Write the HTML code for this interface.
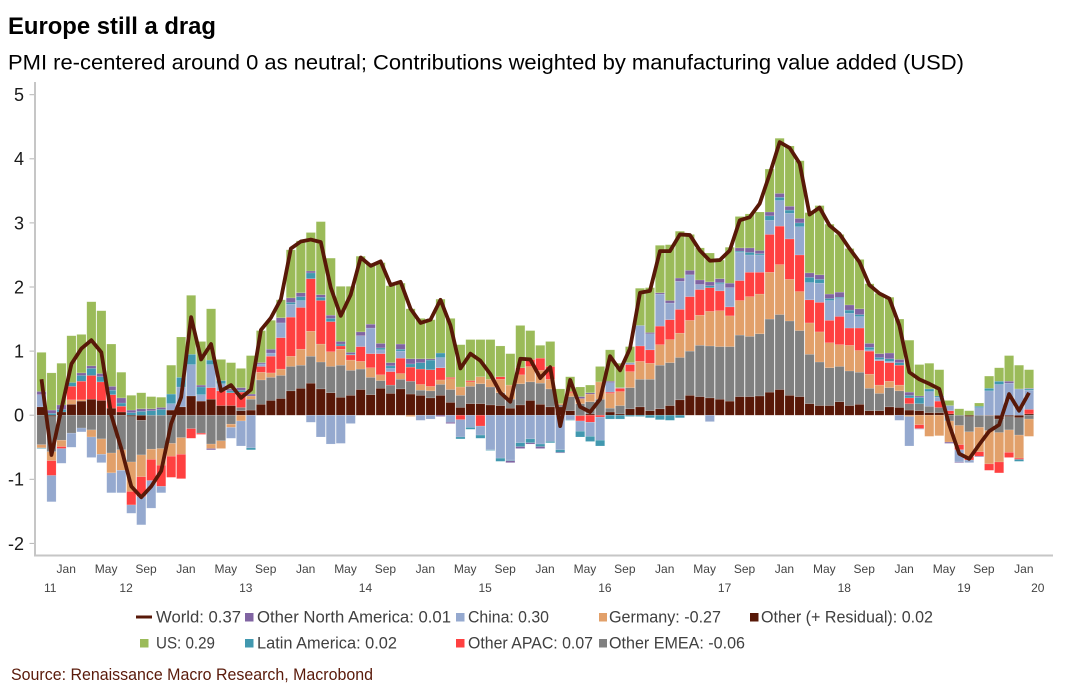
<!DOCTYPE html>
<html lang="en">
<head>
<meta charset="utf-8">
<title>Europe still a drag</title>
<style>
html,body{margin:0;padding:0;background:#fff;}
#chart{display:block;width:1069px;height:697px;font-family:"Liberation Sans",sans-serif;}
</style>
</head>
<body>
<svg id="chart" xmlns="http://www.w3.org/2000/svg" width="1069" height="697" viewBox="0 0 1069 697">
  <rect x="0" y="0" width="1069" height="697" fill="#fff"/>
  <text x="8" y="34" font-size="24.5" font-weight="bold" fill="#000" textLength="208" lengthAdjust="spacingAndGlyphs">Europe still a drag</text>
  <text x="8" y="69.5" font-size="21" fill="#000" textLength="956" lengthAdjust="spacingAndGlyphs">PMI re-centered around 0 as neutral; Contributions weighted by manufacturing value added (USD)</text>
  <g id="bars"></g>
  <g id="axes">
    <line x1="35" y1="82" x2="35" y2="556" stroke="#c6c6c6" stroke-width="2"/>
    <line x1="34" y1="555.5" x2="1053" y2="555.5" stroke="#c6c6c6" stroke-width="2"/>
  </g>
  <path id="world-line" fill="none" stroke="#581808" stroke-width="3.8" stroke-linejoin="round" stroke-linecap="butt"/>
  <g id="legend" font-size="16.5" fill="#404040">
    <g><rect x="136" y="615.5" width="16" height="3" fill="#581808"/><text x="156" y="622.5" textLength="85" lengthAdjust="spacingAndGlyphs">World: 0.37</text></g>
    <g><rect x="245" y="613" width="8.5" height="8.5" fill="#8064a2"/><text x="257" y="622.5" textLength="194" lengthAdjust="spacingAndGlyphs">Other North America: 0.01</text></g>
    <g><rect x="456" y="613" width="8.5" height="8.5" fill="#95a9cf"/><text x="468" y="622.5" textLength="81" lengthAdjust="spacingAndGlyphs">China: 0.30</text></g>
    <g><rect x="599" y="613" width="8" height="8.5" fill="#e2a06a"/><text x="609" y="622.5" textLength="112" lengthAdjust="spacingAndGlyphs">Germany: -0.27</text></g>
    <g><rect x="750" y="613" width="8.5" height="8.5" fill="#581808"/><text x="761" y="622.5" textLength="172" lengthAdjust="spacingAndGlyphs">Other (+ Residual): 0.02</text></g>
    <g><rect x="140" y="639" width="8.5" height="8.5" fill="#9bbb59"/><text x="156" y="648.5" textLength="59" lengthAdjust="spacingAndGlyphs">US: 0.29</text></g>
    <g><rect x="245" y="639" width="8.5" height="8.5" fill="#4198af"/><text x="257" y="648.5" textLength="140" lengthAdjust="spacingAndGlyphs">Latin America: 0.02</text></g>
    <g><rect x="456" y="639" width="8.5" height="8.5" fill="#ff4040"/><text x="468" y="648.5" textLength="125" lengthAdjust="spacingAndGlyphs">Other APAC: 0.07</text></g>
    <g><rect x="599" y="639" width="8" height="8.5" fill="#808080"/><text x="609" y="648.5" textLength="136" lengthAdjust="spacingAndGlyphs">Other EMEA: -0.06</text></g>
  </g>
  <text x="11" y="680" font-size="16.5" fill="#5a1a0a" textLength="362" lengthAdjust="spacingAndGlyphs">Source: Renaissance Macro Research, Macrobond</text>
</svg>
<script>
const yTickValues = [-2,-1,0,1,2,3,4,5];
const monthTickIndex = [3,7,11,15,19,23,27,31,35,39,43,47,51,55,59,63,67,71,75,79,83,87,91,95,99,103,107,111,115,119];
const yearTickLabels = ['11','12','13','14','15','16','17','18','19','20'];
const yearTickIndex = [1.4,9,21,33,45,57,69,81,93,100.4];
const monthNames = ['Jan','May','Sep'];

const other = [.13,-.02,.05,.17,.22,.25,.23,.11,.05,-.02,
-.08,0,0,.08,.13,.30,.22,.25,.15,.15,
.07,.08,.17,.23,.26,.38,.42,.50,.41,.35,
.28,.31,.40,.32,.42,.34,.41,.33,.31,.27,
.31,.20,.12,.18,.18,.16,.15,.11,.16,.23,
.17,.13,.13,.07,-.01,.02,0,.05,.02,.10,
.13,.07,.10,.15,.24,.31,.29,.27,.25,.22,
.29,.29,.30,.36,.40,.31,.29,.18,.15,.15,
.21,.15,.17,.07,.07,.13,.12,.08,.07,.04,
.04,.02,0,-.02,0,-.01,-.06,-.02,-.04,.02];
const otherEmea = [-.46,-.55,-.39,-.28,-.20,-.23,-.37,-.59,-.54,-.71,
-.54,-.53,-.52,-.44,-.35,-.21,-.28,-.45,-.40,-.14,
.05,.17,.38,.36,.36,.38,.36,.42,.42,.41,
.50,.39,.32,.27,.12,.13,.15,.20,.08,.11,
.17,.20,.19,.27,.31,.28,.20,.14,.33,.29,
.33,.28,.03,.22,.18,.19,.25,.06,.13,.33,
.43,.49,.68,.67,.66,.69,.80,.81,.82,.85,
.96,.94,.97,1.14,1.17,1.16,1.03,.77,.68,.59,
.55,.54,.50,.35,.27,.30,.26,.10,.11,.10,
.08,-.09,-.16,-.24,-.19,-.23,-.21,-.21,-.27,-.06];
const germany = [-.05,-.14,-.10,.07,.02,-.11,-.24,-.31,-.32,-.46,
-.34,-.16,-.26,-.20,-.26,0,0,-.07,-.12,-.05,
-.09,.05,.12,.07,.10,.16,.25,.39,.28,.23,
.25,.16,.12,.15,.09,0,.09,-.02,.09,.07,
.07,.17,.13,.07,.11,.12,.21,.22,.14,.24,
.20,.15,.02,.06,.08,.12,.27,.23,.22,.25,
.28,.25,.32,.36,.38,.48,.47,.54,.56,.48,
.54,.62,.62,.73,.78,.65,.61,.49,.47,.39,
.34,.40,.34,.22,.13,.10,.09,-.02,-.15,-.33,
-.32,-.33,-.30,-.39,-.38,-.52,-.46,-.35,-.36,-.27];
const otherApac = [0,-.23,-.03,.21,.29,.37,.29,.21,.09,-.21,
-.31,-.33,-.33,-.33,-.38,-.15,-.02,.18,.23,.20,
.24,0,.09,.26,.49,.61,.65,.82,.68,.47,
.05,.08,.23,.22,.33,.21,.24,.22,.24,.26,
.19,.02,-.07,.02,-.17,0,.04,0,.11,.11,
.19,.20,0,.02,-.08,-.11,-.03,.02,.05,.11,
.24,.21,.29,.31,.37,.37,.40,.37,.31,.14,
.31,.38,.34,.59,.60,.63,.57,.36,.46,.35,
.44,.27,.35,.36,.38,.29,.31,.09,-.06,0,
.10,.05,-.08,-.05,-.07,-.10,-.17,-.08,-.02,.07];
const china = [.19,-.41,-.23,-.22,-.06,-.32,-.13,-.31,-.35,-.13,
-.44,-.43,-.10,.10,.31,.49,.10,.36,.11,-.17,
-.39,-.51,.04,.05,.23,.20,.11,-.11,-.34,-.45,
-.44,-.13,.17,.40,.06,.05,.11,0,-.08,-.06,
.16,-.11,-.27,-.19,-.14,-.54,-.67,-.70,-.43,-.37,
-.45,-.41,-.54,-.07,-.16,-.22,-.36,.15,.01,.03,
.32,.25,.50,.26,.44,.33,.08,-.10,.11,.30,
.44,.27,.27,.22,.40,.40,.44,.27,.30,.31,
.28,.23,.18,.02,.02,.02,-.08,-.46,-.01,.23,
.06,.08,-.19,-.04,.12,.38,.48,.50,.41,.30];
const latinAmerica = [-.01,.03,.04,.06,.09,.11,.08,.07,.05,.04,
.06,.07,.09,.15,.15,.16,.12,.07,.05,.03,
.03,-.03,0,0,0,.03,.06,.09,.05,.05,
.03,.01,0,0,.03,.04,.03,.05,.10,.15,
.07,0,-.03,-.03,-.05,-.01,-.05,-.01,-.06,-.06,
-.04,-.02,-.04,-.01,-.09,-.08,-.09,-.06,-.06,-.02,
-.02,-.04,-.07,-.08,-.04,.01,0,.03,.02,0,
.02,.04,.02,.07,.05,.05,.06,.08,.06,.03,
.02,.05,.03,.04,.03,.04,.04,.04,.10,.04,
.02,0,0,0,.02,.04,.05,0,-.03,.02];
const otherNorthAmerica = [.05,.05,.07,0,.04,.04,.05,.06,.08,.04,
.04,.03,.03,0,0,0,.03,-.02,0,.03,
.04,.03,.02,.06,.08,.07,.06,.03,.04,.05,
.04,.03,.06,.06,.07,.05,.08,.08,.06,.02,
-.02,-.02,0,0,0,0,0,-.03,-.03,-.02,
-.03,0,-.01,0,.03,.02,0,.02,0,0,
0,.02,.02,.04,.05,.07,.07,.06,.06,.07,
.05,.07,.05,.06,.06,.06,.07,.07,.07,.07,
.08,.08,.09,.06,.06,.09,.05,.05,.02,0,
0,-.02,-.01,0,-.01,0,0,.03,0,.01];
const us = [.61,.58,.65,.73,.60,1.0,.98,.66,.40,.23,
.25,.19,.16,.45,.63,.92,.68,.80,.33,.41,
.30,.60,.50,.45,.28,.75,.81,.60,1.14,.89,
.86,1.03,1.18,.95,1.26,1.20,.95,.78,.63,.61,
.84,.92,.66,.64,.58,.62,.48,.49,.66,.45,
.20,.39,.23,.23,.15,.12,.24,.49,.38,.25,
.58,.70,.74,.87,.73,.56,.50,.45,.29,.56,
.49,.53,.60,.67,.86,.94,.90,.94,1.08,1.09,
.90,.88,.77,.93,.94,.87,.63,.81,.49,.40,
.41,.08,.10,.07,.05,.19,.21,.40,.37,.29];
const world = [.56,-.62,.10,.80,1.04,1.17,.98,0,-.52,-1.11,
-1.28,-1.11,-.87,-.13,.28,1.53,.87,1.11,.38,.47,
.27,.40,1.33,1.52,1.81,2.60,2.71,2.74,2.70,1.99,
1.55,1.88,2.46,2.33,2.40,2.03,2.08,1.66,1.44,1.49,
1.80,1.40,.73,.96,.85,.64,.35,.21,.88,.87,
.58,.75,-.17,.55,.13,.05,.25,.92,.70,1.04,
1.91,1.94,2.56,2.56,2.82,2.81,2.57,2.41,2.42,2.57,
3.04,3.09,3.30,3.76,4.26,4.17,3.93,3.13,3.24,2.96,
2.83,2.60,2.39,2.03,1.90,1.82,1.40,.67,.56,.49,
.41,-.15,-.60,-.68,-.46,-.25,-.15,.33,.07,.35];

const NS = 'http://www.w3.org/2000/svg';
function xScale(i){ return 41.5 + 9.975 * i; }
function yScale(v){ return 415.2 - 64.1 * v; }

const stackSeries = [
  {key:'other', values:other, color:'#581808'},
  {key:'other-emea', values:otherEmea, color:'#808080'},
  {key:'germany', values:germany, color:'#e2a06a'},
  {key:'other-apac', values:otherApac, color:'#ff4040'},
  {key:'china', values:china, color:'#95a9cf'},
  {key:'latin-america', values:latinAmerica, color:'#4198af'},
  {key:'other-north-america', values:otherNorthAmerica, color:'#8064a2'},
  {key:'us', values:us, color:'#9bbb59'}
];

const barsGroup = document.getElementById('bars');
const barWidth = 9.2;
world.forEach(function(_, i){
  let pos = 0, neg = 0;
  stackSeries.forEach(function(s){
    const v = s.values[i];
    if (!v) return;
    let y0, y1;
    if (v > 0) { y0 = pos; y1 = pos + v; pos = y1; }
    else { y0 = neg; y1 = neg + v; neg = y1; }
    const top = Math.min(yScale(y0), yScale(y1));
    const h = Math.abs(yScale(y1) - yScale(y0));
    const r = document.createElementNS(NS, 'rect');
    r.setAttribute('x', (xScale(i) - barWidth / 2).toFixed(2));
    r.setAttribute('y', top.toFixed(2));
    r.setAttribute('width', barWidth);
    r.setAttribute('height', h.toFixed(2));
    r.setAttribute('fill', s.color);
    r.setAttribute('stroke', 'rgba(255,255,255,0.25)');
    r.setAttribute('stroke-width', '0.5');
    
    
    barsGroup.appendChild(r);
  });
});

document.getElementById('world-line').setAttribute('d', world.map(function(v, i){
  return (i ? 'L' : 'M') + xScale(i).toFixed(2) + ' ' + yScale(v).toFixed(2);
}).join(' '));

const axes = document.getElementById('axes');
yTickValues.forEach(function(v){
  const t = document.createElementNS(NS, 'line');
  t.setAttribute('x1', 29.5);
  t.setAttribute('x2', 34);
  t.setAttribute('y1', yScale(v));
  t.setAttribute('y2', yScale(v));
  t.setAttribute('stroke', '#b5b5b5');
  t.setAttribute('stroke-width', '1');
  
  
  axes.appendChild(t);
  const l = document.createElementNS(NS, 'text');
  l.setAttribute('x', 24);
  l.setAttribute('y', yScale(v) + 6.4);
  l.setAttribute('text-anchor', 'end');
  l.setAttribute('font-size', '18');
  l.setAttribute('fill', '#1a1a1a');
  
  
  l.textContent = String(v);
  axes.appendChild(l);
});

monthTickIndex.forEach(function(idx, n){
  if (idx > 99) return;
  const l = document.createElementNS(NS, 'text');
  l.setAttribute('x', xScale(idx) - 5.2);
  l.setAttribute('y', 573);
  l.setAttribute('text-anchor', 'middle');
  l.setAttribute('font-size', '12');
  l.setAttribute('fill', '#444');
  
  
  l.textContent = monthNames[n % 3];
  axes.appendChild(l);
});

yearTickIndex.forEach(function(idx, n){
  const l = document.createElementNS(NS, 'text');
  l.setAttribute('x', xScale(idx) - 5.2);
  l.setAttribute('y', 592);
  l.setAttribute('text-anchor', 'middle');
  l.setAttribute('font-size', '12');
  l.setAttribute('fill', '#444');
  
  
  l.textContent = yearTickLabels[n];
  axes.appendChild(l);
});
</script>
</body>
</html>
